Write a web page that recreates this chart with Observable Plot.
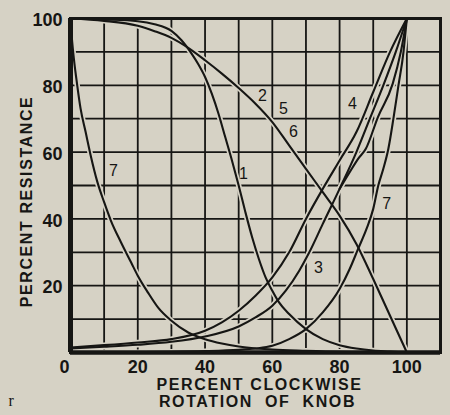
<!DOCTYPE html>
<html><head><meta charset="utf-8">
<script src="https://cdn.jsdelivr.net/npm/d3@7"></script>
<script src="https://cdn.jsdelivr.net/npm/@observablehq/plot@0.6"></script>
<style>
html,body{margin:0;padding:0;background:#d6d2c5;}
#chart{width:450px;height:415px;overflow:hidden;}
</style></head><body><div id="chart"></div>
<script>
// Grid and tick values
const xGrid = [0,10,20,30,40,50,60,70,80,90,100,110];
const yGrid = [0,10,20,30,40,50,60,70,80,90,100];
const xTicks = [0,20,40,60,80,100];
const yTicks = [20,40,60,80,100];

// Curves: [percent rotation, percent resistance]
const curve1 = [[0,100],[10,99.7],[20,99.2],[25,98.3],[30,96.3],[33,93.5],[36,89.5],[38,86.3],[40,82.5],[42,77.5],[44,71.5],[46,64.5],[48,57.5],[50,50],[52,42],[54,34.5],[56,28],[58,22.5],[60,18.5],[62,15],[65,11.5],[70,7],[75,4],[80,2.2],[85,1.2],[90,0.6],[95,0.3],[100,0]];
const curve256 = [[0,100],[10,99.3],[20,97.8],[25,96.2],[30,94.2],[35,91.2],[40,87.5],[45,83.5],[50,79.2],[55,74.5],[60,69],[65,62],[70,55],[75,48],[80,41],[85,32.5],[90,22],[95,11],[100,0]];
const curve4 = [[0,1.5],[10,2.2],[20,3],[30,4],[40,6.5],[45,9],[50,12.5],[55,17],[60,22.5],[65,30],[70,40],[75,49],[80,57.5],[85,66],[90,78],[95,90],[100,100]];
const curve3 = [[0,1.2],[10,1.7],[20,2.3],[30,3.2],[40,4.8],[50,7.8],[55,10.5],[60,14],[64,18.5],[68,24.5],[71,30],[75,38.5],[80,49],[85,60],[89,70],[93,80],[96.7,90],[100,100]];
const curve3b = [[80,49],[83,54],[85.5,58],[87.8,61],[91.4,70.5],[95.8,80.5],[98.2,90],[100,100]];
const curve7L = [[0,100],[0.5,93],[1,88],[2,80],[3,73],[4.5,66],[6,59],[8,51],[10,45],[12,39.5],[15,33],[18,27],[20,23],[23,18],[26,13.5],[30,9.5],[35,6],[40,4],[45,2.7],[50,1.8],[60,0.9],[70,0.5],[80,0.2],[100,0]];
const curve7R = [[0,0],[20,0.1],[30,0.2],[40,0.4],[50,0.8],[55,1.2],[60,2],[65,4],[70,7],[75,12],[80,19],[83,25],[85.5,31],[88,37],[90,43],[91.5,50],[93,55],[94.5,61],[96,70],[97.5,80],[99,90],[99.5,95],[100,100]];

const curveLabels = ["1","2","5","6","4","3","7","7"];
const labelX = [51.4,57.1,63.3,66.3,83.8,73.7,12.8,94.0];
const labelY = [53.6,76.9,73.0,66.2,74.3,25.4,54.5,44.6];

const series = [["1",curve1],["256",curve256],["4",curve4],["3",curve3],["3b",curve3b],["7L",curve7L],["7R",curve7R]];
const rows = series.flatMap(([name, pts]) => pts.map(([x, y]) => ({name, x, y})));
const labels = curveLabels.map((t, i) => ({t, x: labelX[i], y: labelY[i]}));

const paper = "#d6d2c5";
const ink = "#161614";
const sans = "Liberation Sans, Arial, sans-serif";
const titleStyle = {fontSize: 16, fontWeight: "bold", fill: ink, lineAnchor: "middle"};

const chart = Plot.plot({
  width: 450, height: 415,
  marginLeft: 70, marginRight: 10, marginTop: 18, marginBottom: 63,
  x: {domain: [0, 110], axis: null},
  y: {domain: [0, 100], axis: null},
  style: {background: paper, fontFamily: sans, color: ink},
  marks: [
    Plot.ruleX(xGrid, {stroke: ink, strokeWidth: 1.8}),
    Plot.ruleY(yGrid, {stroke: ink, strokeWidth: 1.8}),
    Plot.line(rows, {x: "x", y: "y", z: "name", curve: "monotone-x", stroke: paper, strokeWidth: 5.5}),
    Plot.line(rows, {x: "x", y: "y", z: "name", curve: "monotone-x", stroke: ink, strokeWidth: 2.1}),
    Plot.frame({stroke: ink, strokeWidth: 3}),
    Plot.ruleX([0], {stroke: ink, strokeWidth: 5}),
    Plot.ruleY([0], {stroke: ink, strokeWidth: 4.5}),
    Plot.text(labels, {x: "x", y: "y", text: "t", fontSize: 16, fill: ink}),
    Plot.text(yTicks, {x: 0, y: d => d, text: d => String(d), dx: -8, dy: 2, textAnchor: "end", fontSize: 18, fontWeight: "bold", fill: ink}),
    Plot.text(xTicks.filter(d => d > 0), {x: d => d, y: 0, text: d => String(d), dy: 15, lineAnchor: "middle", fontSize: 18, fontWeight: "bold", fill: ink}),
    Plot.text(xTicks.filter(d => d === 0), {x: d => d, y: 0, text: d => String(d), dx: -6, dy: 15, lineAnchor: "middle", fontSize: 18, fontWeight: "bold", fill: ink}),
    Plot.text(["PERCENT RESISTANCE"], {...titleStyle, frameAnchor: "left", textAnchor: "middle", text: d => d, rotate: -90, dx: -44, dy: 16, style: "letter-spacing:1.6px"}),
    Plot.text(["PERCENT CLOCKWISE"], {...titleStyle, frameAnchor: "bottom", textAnchor: "middle", text: d => d, dx: 4, dy: 32}),
    Plot.text(["ROTATION\u00a0\u00a0OF\u00a0\u00a0KNOB"], {...titleStyle, frameAnchor: "bottom", textAnchor: "middle", text: d => d, dx: 2, dy: 49}),
    Plot.text(["r"], {frameAnchor: "bottom-left", text: d => d, dx: -62, dy: 48, lineAnchor: "middle", fontSize: 16, fontFamily: "Liberation Serif, serif", fill: ink})
  ]
});
// widen the titles' tracking like the lettering in the reference
chart.querySelectorAll("text").forEach(t => {
  if (/[A-Z]{4,}/.test(t.textContent)) t.setAttribute("letter-spacing", "1.6");
});
document.getElementById("chart").appendChild(chart);
</script></body></html>
